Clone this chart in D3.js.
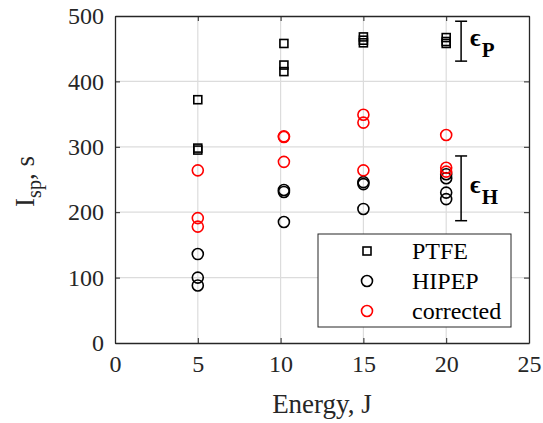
<!DOCTYPE html>
<html>
<head>
  <meta http-equiv="Content-Type" content="text/html; charset=UTF-8">
  <script src="https://d3js.org/d3.v7.min.js"></script>
  <style>
    body { margin:0; background:#fff; }
    text { font-family: "Liberation Serif", "Times New Roman", serif; }
  </style>
</head>
<body>
  <svg width="543" height="423"></svg>
  <script>
    // energies and Isp readings, one array per series
    var ptfeX = [5, 5, 5, 10.2, 10.2, 10.2, 15, 15, 15, 20, 20, 20];
    var ptfeY = [372, 298, 295, 458, 425, 415, 468, 463, 459, 467, 461, 458];
    var hipepX = [5, 5, 5, 10.2, 10.2, 10.2, 15, 15, 15, 20, 20, 20, 20];
    var hipepY = [136, 100, 88, 234, 231, 185, 246, 243, 205, 258, 252, 230, 220];
    var corrX = [5, 5, 5, 10.2, 10.2, 10.2, 15, 15, 15, 20, 20, 20];
    var corrY = [264, 191, 178, 316, 315, 277, 349, 337, 264, 318, 268, 262];
    var xTicks = [0, 5, 10, 15, 20, 25];
    var yTicks = [0, 100, 200, 300, 400, 500];
    // spread bars: [x, low, high, label, subscript]
    var spreadBars = [[20.9, 431, 492, "\u03F5", "P"], [20.9, 187, 286, "\u03F5", "H"]];
    var legendNames = ["PTFE", "HIPEP", "corrected"];

    var padL = 115, padR = 529, padT = 16, padB = 343;
    var ink = "#262626";

    var x = d3.scaleLinear().domain([0, 25]).range([padL, padR]);
    var y = d3.scaleLinear().domain([0, 500]).range([padB, padT]);

    var svg = d3.select("svg");

    // grid
    svg.append("g").selectAll("line").data(xTicks.slice(1, -1)).enter().append("line")
      .attr("x1", function(d) { return x(d); }).attr("x2", function(d) { return x(d); })
      .attr("y1", padT).attr("y2", padB)
      .attr("stroke", "#dcdcdc").attr("stroke-width", 1.2);
    svg.append("g").selectAll("line").data(yTicks.slice(1, -1)).enter().append("line")
      .attr("y1", function(d) { return y(d); }).attr("y2", function(d) { return y(d); })
      .attr("x1", padL).attr("x2", padR)
      .attr("stroke", "#dcdcdc").attr("stroke-width", 1.2);

    // axes, ticks inward, box
    function styleAxis(g) {
      g.select(".domain").attr("stroke", ink).attr("stroke-width", 1.3);
      g.selectAll(".tick line").attr("stroke", ink).attr("stroke-width", 1);
      g.selectAll("text").attr("fill", ink).style("font-size", "24px")
        .style("font-family", "Liberation Serif");
    }
    svg.append("g").attr("transform", "translate(0," + padB + ")")
      .call(d3.axisBottom(x).tickValues(xTicks).tickSizeInner(-5).tickSizeOuter(0).tickPadding(12))
      .call(styleAxis);
    svg.append("g").attr("transform", "translate(0," + padT + ")")
      .call(d3.axisTop(x).tickValues(xTicks).tickSizeInner(-5).tickSizeOuter(0).tickFormat(""))
      .call(styleAxis);
    svg.append("g").attr("transform", "translate(" + padL + ",0)")
      .call(d3.axisLeft(y).tickValues(yTicks).tickSizeInner(-5).tickSizeOuter(0).tickPadding(11))
      .call(styleAxis);
    svg.append("g").attr("transform", "translate(" + padR + ",0)")
      .call(d3.axisRight(y).tickValues(yTicks).tickSizeInner(-5).tickSizeOuter(0).tickFormat(""))
      .call(styleAxis);

    // markers
    svg.append("g").selectAll("rect").data(d3.range(ptfeX.length)).enter().append("rect")
      .attr("x", function(i) { return x(ptfeX[i]) - 4; })
      .attr("y", function(i) { return y(ptfeY[i]) - 4; })
      .attr("width", 8).attr("height", 8)
      .attr("fill", "none").attr("stroke", "#000").attr("stroke-width", 1.6);
    svg.append("g").selectAll("circle").data(d3.range(hipepX.length)).enter().append("circle")
      .attr("cx", function(i) { return x(hipepX[i]); })
      .attr("cy", function(i) { return y(hipepY[i]); })
      .attr("r", 5.5)
      .attr("fill", "none").attr("stroke", "#000").attr("stroke-width", 1.6);
    svg.append("g").selectAll("circle").data(d3.range(corrX.length)).enter().append("circle")
      .attr("cx", function(i) { return x(corrX[i]); })
      .attr("cy", function(i) { return y(corrY[i]); })
      .attr("r", 5.5)
      .attr("fill", "none").attr("stroke", "#ff0000").attr("stroke-width", 1.6);

    // spread bars with epsilon labels
    spreadBars.forEach(function(b) {
      var g = svg.append("g").attr("stroke", "#000").attr("stroke-width", 1.5);
      var bx = x(b[0]);
      g.append("line").attr("x1", bx).attr("x2", bx).attr("y1", y(b[2])).attr("y2", y(b[1]));
      g.append("line").attr("x1", bx - 6).attr("x2", bx + 6).attr("y1", y(b[2])).attr("y2", y(b[2]));
      g.append("line").attr("x1", bx - 6).attr("x2", bx + 6).attr("y1", y(b[1])).attr("y2", y(b[1]));
      var t = svg.append("text").attr("x", bx + 9).attr("y", y((b[1] + b[2]) / 2) + 5)
        .attr("font-weight", "bold").style("font-size", "25px").attr("fill", "#000");
      t.append("tspan").text(b[3]);
      t.append("tspan").attr("dx", 1).attr("dy", 11).style("font-size", "21px").text(b[4]);
    });

    // legend
    var lg = svg.append("g");
    lg.append("rect").attr("x", 318).attr("y", 234).attr("width", 193).attr("height", 93)
      .attr("fill", "#fff").attr("stroke", ink).attr("stroke-width", 1);
    legendNames.forEach(function(name, i) {
      var ly = 251 + i * 30;
      if (i === 0) {
        lg.append("rect").attr("x", 363).attr("y", ly - 4).attr("width", 8).attr("height", 8)
          .attr("fill", "none").attr("stroke", "#000").attr("stroke-width", 1.6);
      } else {
        lg.append("circle").attr("cx", 367).attr("cy", ly).attr("r", 5.5)
          .attr("fill", "none").attr("stroke", i === 1 ? "#000" : "#ff0000").attr("stroke-width", 1.6);
      }
      lg.append("text").attr("x", 412).attr("y", ly + 8).text(name)
        .style("font-size", "24px").attr("fill", "#000");
    });

    // axis titles
    svg.append("text").attr("x", (padL + padR) / 2).attr("y", 413)
      .attr("text-anchor", "middle").style("font-size", "27px").attr("fill", ink)
      .text("Energy, J");
    var yl = svg.append("text").attr("transform", "translate(34," + ((padT + padB) / 2 + 2) + ") rotate(-90)")
      .attr("text-anchor", "middle").style("font-size", "27px").attr("fill", ink);
    yl.append("tspan").text("I");
    yl.append("tspan").attr("dy", 7).style("font-size", "20px").text("sp");
    yl.append("tspan").attr("dy", -7).text(", s");
  </script>
</body>
</html>
